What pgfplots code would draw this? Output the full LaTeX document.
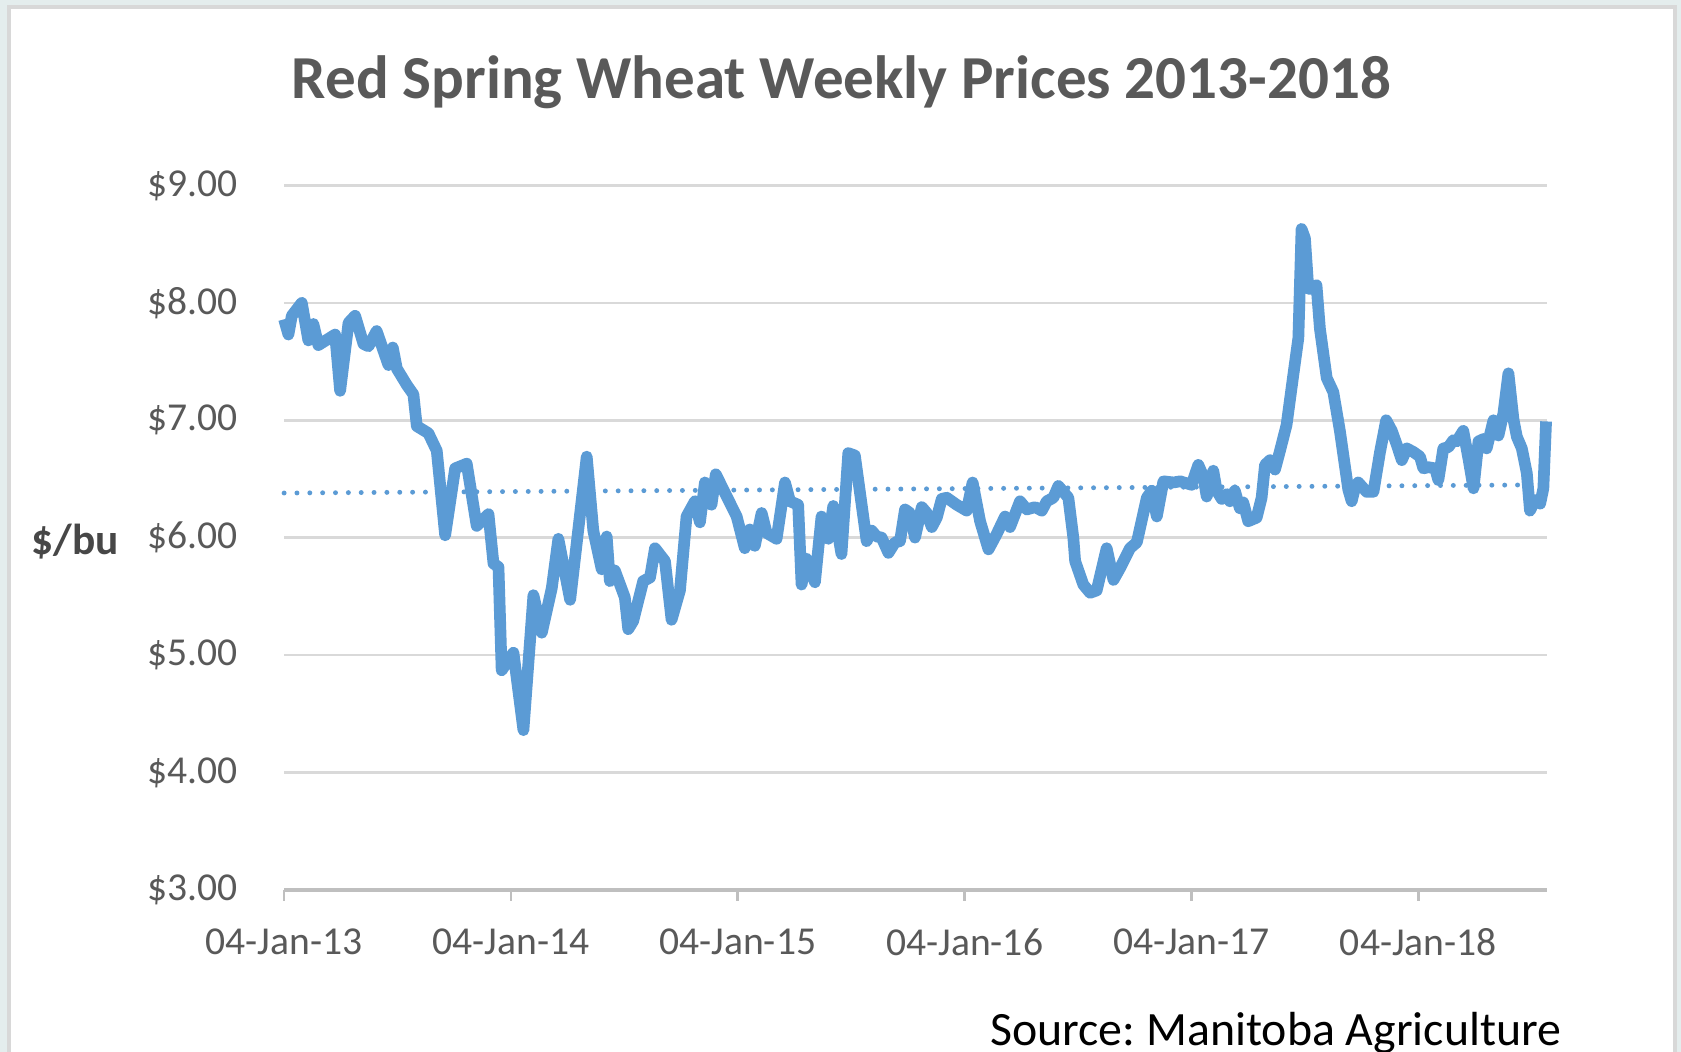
\documentclass[border=0pt]{standalone}
\usepackage{fontspec}
\setmainfont{Carlito}
\usepackage{pgfplots}
\pgfplotsset{compat=1.18}

\definecolor{lineblue}{HTML}{5B9BD5}
\definecolor{gridgray}{HTML}{D9D9D9}
\definecolor{axisgray}{HTML}{BFBFBF}
\definecolor{labelgray}{HTML}{595959}
\definecolor{framegray}{HTML}{D8D8D8}
\definecolor{outside}{HTML}{E4EDED}

\begin{document}
\frenchspacing
\begin{tikzpicture}[x=1cm,y=1cm]
\useasboundingbox (0,0) rectangle (15.68,9.81);
\clip (0,0) rectangle (15.68,9.81);
\fill[outside] (0,0) rectangle (15.68,9.81);
\fill[white] (0.084,0) rectangle (15.625,9.745);
\draw[framegray, line width=1pt] (0.084,-0.2) -- (0.084,9.745) -- (15.625,9.745) -- (15.625,-0.2);

\begin{axis}[
    at={(2.65cm,1.51cm)}, anchor=south west,
    width=11.78cm, height=6.57cm, scale only axis,
    xmin=0, xmax=5.567, ymin=3, ymax=9,
    xtick={0,1,2,3,4,5},
    xticklabels={04-Jan-13,04-Jan-14,04-Jan-15,04-Jan-16,04-Jan-17,04-Jan-18},
    ytick={3,4,5,6,7,8,9},
    yticklabel={\$\pgfmathprintnumber[fixed,fixed zerofill,precision=2]{\tick}},
    /pgf/number format/assume math mode=true,
    ymajorgrids, grid style={gridgray, line width=0.7pt},
    axis line style={draw=none},
    xtick pos=bottom, ytick style={draw=none},
    xtick style={axisgray, line width=0.7pt},
    tick align=outside, major tick length=0.1cm,
    ticklabel style={font=\fontsize{10.5}{12}\selectfont, text=labelgray},
    xticklabel style={yshift=-4pt},
    yticklabel style={xshift=-6pt},
    clip=false,
]
\draw[axisgray, line width=0.9pt] (rel axis cs:0,0) -- (rel axis cs:1,0);

% trend line
\addplot[lineblue, line width=1.3pt, line cap=round, dash pattern=on 0.01pt off 3.4pt]
    coordinates {(0,6.38) (5.567,6.45)};

\addplot[lineblue, line width=3.1pt, line join=round] table {
x y
0.000 7.86
0.019 7.73
0.034 7.89
0.078 8.00
0.107 7.68
0.129 7.82
0.151 7.64
0.225 7.73
0.247 7.25
0.284 7.83
0.313 7.89
0.350 7.65
0.372 7.63
0.408 7.76
0.460 7.47
0.479 7.62
0.497 7.44
0.541 7.30
0.570 7.22
0.585 6.95
0.636 6.89
0.673 6.74
0.710 6.02
0.754 6.59
0.805 6.63
0.849 6.10
0.901 6.20
0.923 5.78
0.945 5.75
0.959 4.87
1.011 5.02
1.055 4.36
1.099 5.51
1.136 5.19
1.180 5.57
1.209 5.99
1.261 5.47
1.334 6.69
1.363 6.06
1.400 5.73
1.422 6.01
1.436 5.63
1.458 5.72
1.502 5.49
1.517 5.22
1.539 5.29
1.583 5.63
1.613 5.66
1.635 5.91
1.679 5.80
1.708 5.30
1.745 5.55
1.774 6.18
1.811 6.31
1.833 6.13
1.855 6.47
1.884 6.28
1.903 6.54
1.936 6.41
1.995 6.18
2.031 5.91
2.053 6.07
2.075 5.93
2.105 6.21
2.127 6.04
2.171 5.99
2.208 6.47
2.230 6.31
2.266 6.28
2.281 5.60
2.303 5.82
2.340 5.62
2.369 6.18
2.399 5.99
2.421 6.27
2.457 5.86
2.487 6.72
2.516 6.70
2.568 5.97
2.590 6.06
2.612 6.01
2.634 6.00
2.664 5.87
2.693 5.96
2.715 5.97
2.737 6.24
2.759 6.21
2.781 6.00
2.811 6.26
2.833 6.21
2.855 6.09
2.877 6.17
2.899 6.33
2.921 6.34
2.965 6.28
3.009 6.23
3.035 6.47
3.068 6.14
3.105 5.90
3.141 6.03
3.178 6.18
3.200 6.09
3.244 6.31
3.274 6.24
3.310 6.26
3.340 6.23
3.362 6.31
3.391 6.34
3.413 6.44
3.457 6.34
3.479 6.00
3.487 5.80
3.523 5.60
3.553 5.53
3.582 5.55
3.626 5.91
3.656 5.64
3.685 5.74
3.729 5.91
3.759 5.96
3.803 6.34
3.825 6.40
3.847 6.18
3.876 6.48
3.921 6.47
3.950 6.48
4.000 6.45
4.030 6.62
4.052 6.52
4.067 6.35
4.096 6.57
4.111 6.40
4.133 6.33
4.155 6.37
4.169 6.31
4.191 6.40
4.213 6.25
4.228 6.30
4.250 6.14
4.287 6.17
4.309 6.34
4.324 6.62
4.346 6.66
4.368 6.58
4.390 6.74
4.419 6.96
4.449 7.39
4.471 7.70
4.485 8.63
4.500 8.55
4.515 8.12
4.537 8.12
4.551 8.15
4.566 7.78
4.596 7.36
4.625 7.24
4.654 6.91
4.691 6.41
4.706 6.31
4.720 6.42
4.735 6.47
4.772 6.39
4.802 6.39
4.831 6.73
4.858 7.00
4.883 6.91
4.905 6.79
4.927 6.66
4.949 6.76
4.978 6.73
5.007 6.69
5.022 6.59
5.044 6.60
5.074 6.59
5.088 6.49
5.110 6.76
5.132 6.77
5.154 6.83
5.169 6.82
5.198 6.91
5.221 6.67
5.243 6.42
5.265 6.82
5.287 6.84
5.301 6.76
5.331 7.00
5.353 6.87
5.375 7.06
5.397 7.40
5.419 7.01
5.434 6.86
5.456 6.76
5.478 6.55
5.492 6.23
5.514 6.32
5.537 6.29
5.551 6.42
5.563 6.99
};
\end{axis}

\node[text=labelgray, font=\fontsize{16.2}{19}\selectfont\bfseries] at (7.85,9.04) {Red Spring Wheat Weekly Prices 2013-2018};
\node[text=labelgray!80!black, font=\fontsize{11.5}{13}\selectfont\bfseries] at (0.70,4.76) {\$/bu};
\node[anchor=base east, inner sep=0pt, font=\fontsize{12.7}{15}\selectfont] at (14.57,0.06) {Source: Manitoba Agriculture};
\end{tikzpicture}
\end{document}
